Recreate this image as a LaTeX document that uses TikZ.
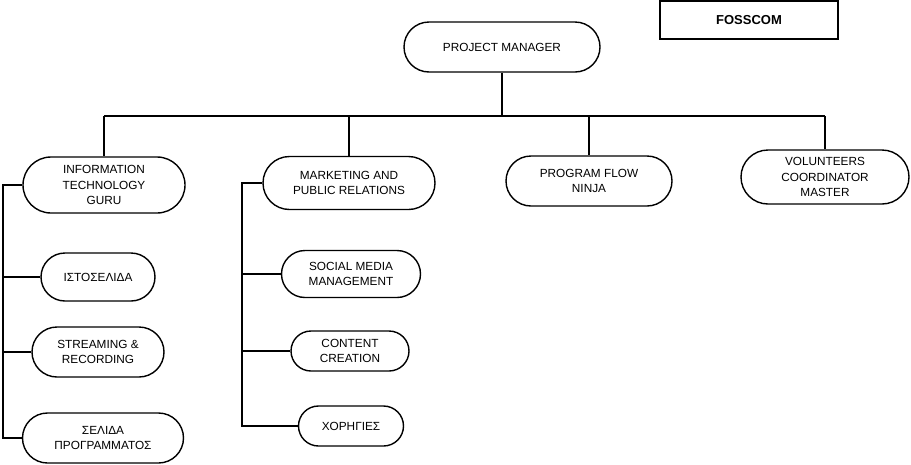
\documentclass[tikz,border=0pt]{standalone}
\usepackage{fontspec}
\setmainfont{Liberation Sans}
\usetikzlibrary{shapes.misc,calc}

\tikzset{
  pill/.style={draw=black,line width=1.4pt,rounded rectangle,fill=white,align=center,
    inner sep=1pt,font=\fontsize{11.8}{15.5}\selectfont},
  link/.style={draw=black,line width=1.6pt}
}

\begin{document}
\begin{tikzpicture}[x=1pt,y=-1pt]
\useasboundingbox (0,0) rectangle (911,464);
% top
\node[draw=black,line width=1.4pt,minimum width=178pt,minimum height=38pt,font=\bfseries\fontsize{13}{15}\selectfont] (fc) at (749,20) {FOSSCOM};
\node[pill,minimum width=198pt,minimum height=50pt] (pm) at (502,47) {PROJECT MANAGER};
% second level
\node[pill,minimum width=164pt,minimum height=56pt] (it) at (104,185) {INFORMATION\\TECHNOLOGY\\GURU};
\node[pill,minimum width=174pt,minimum height=53pt] (mpr) at (349,183) {MARKETING AND\\PUBLIC RELATIONS};
\node[pill,minimum width=168pt,minimum height=50pt] (pfn) at (589,181) {PROGRAM FLOW\\NINJA};
\node[pill,minimum width=170pt,minimum height=54pt] (vcm) at (825,177) {VOLUNTEERS\\COORDINATOR\\MASTER};
% IT team
\node[pill,minimum width=116pt,minimum height=48pt] (web) at (98,277) {ΙΣΤΟΣΕΛΙΔΑ};
\node[pill,minimum width=134pt,minimum height=50pt] (str) at (98,352) {STREAMING \&\\RECORDING};
\node[pill,minimum width=163pt,minimum height=50pt] (prog) at (103,438) {ΣΕΛΙΔΑ\\ΠΡΟΓΡΑΜΜΑΤΟΣ};
% marketing team
\node[pill,minimum width=141pt,minimum height=47pt] (smm) at (351,274) {SOCIAL MEDIA\\MANAGEMENT};
\node[pill,minimum width=120pt,minimum height=40pt] (cc) at (350,351) {CONTENT\\CREATION};
\node[pill,minimum width=107pt,minimum height=40pt] (spon) at (351,426) {ΧΟΡΗΓΙΕΣ};
% wiring
\coordinate (bus) at (502,116);
\coordinate (itsp) at (3,0);
\coordinate (mksp) at (242,0);
\draw[link] (pm.south) -- (bus);
\draw[link] (bus -| it.north) -- (bus -| vcm.north);
\foreach \n in {it,mpr,pfn,vcm} \draw[link] (bus -| \n.north) -- (\n.north);
\draw[link] (it.west) -- (it.west -| itsp) -- (itsp |- prog.west) -- (prog.west);
\foreach \n in {web,str} \draw[link] (\n.west -| itsp) -- (\n.west);
\draw[link] (mpr.west) -- (mpr.west -| mksp) -- (mksp |- spon.west) -- (spon.west);
\foreach \n in {smm,cc} \draw[link] (\n.west -| mksp) -- (\n.west);
\end{tikzpicture}
\end{document}
